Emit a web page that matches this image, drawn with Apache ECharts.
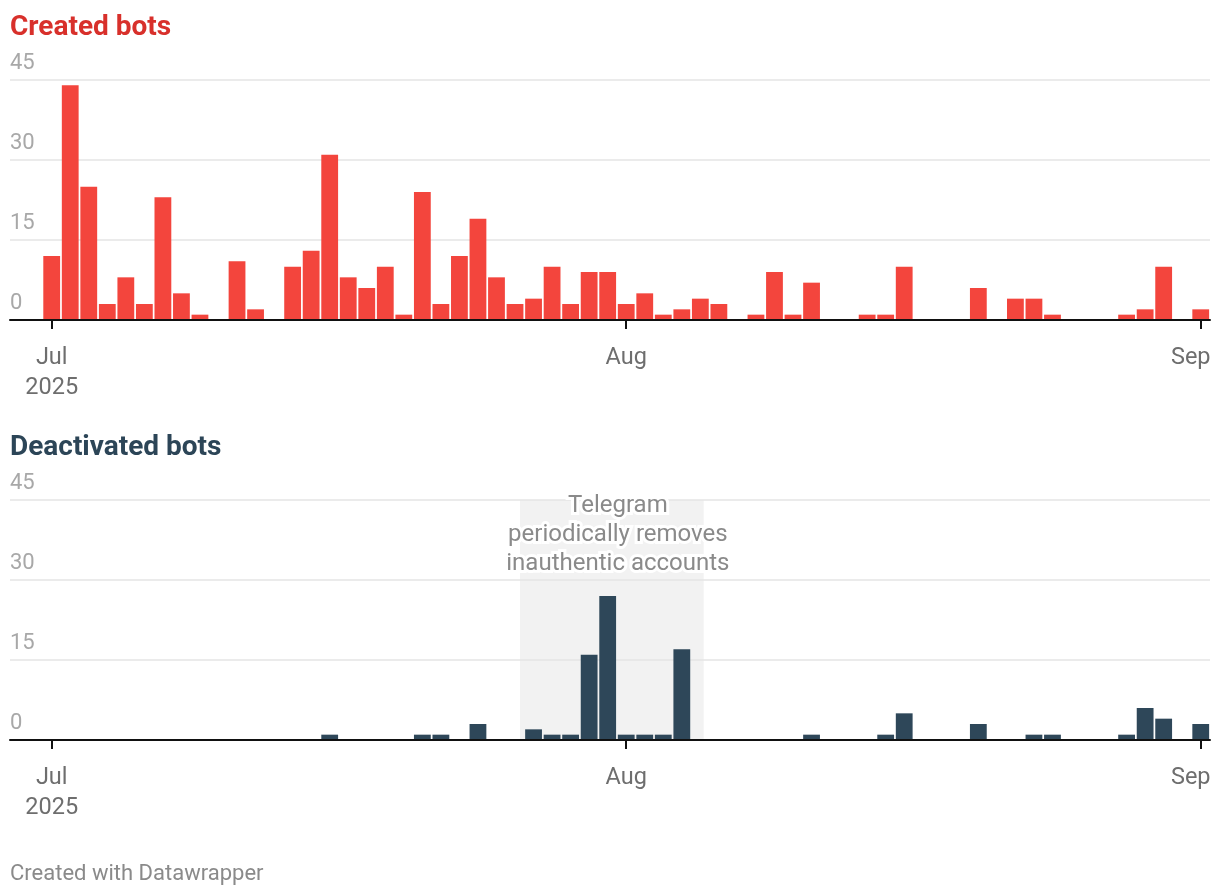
<!DOCTYPE html>
<html><head><meta charset="utf-8">
<script src="https://cdn.jsdelivr.net/npm/echarts@6/dist/echarts.min.js"></script>
<style>html,body{margin:0;padding:0;background:#fff}#c{width:1220px;height:896px}</style>
</head><body><div id="c"></div>
<script>
// Daily values, Jul 1 2025 (day 0) .. Sep 1 2025 (day 62)
const created = [
  12,44,25,3,8,3,23,5,1,0, 11,2,0,10,13,31,8,6,10,1, 24,3,12,19,8,3,4,10,3,9, 9,
  3,5,1,2,4,3,0,1,9,1, 7,0,0,1,1,10,0,0,0,6, 0,4,4,1,0,0,0,1,2,10, 0,
  2
];
const deactivated = [
  0,0,0,0,0,0,0,0,0,0, 0,0,0,0,0,1,0,0,0,0, 1,1,0,3,0,0,2,1,1,16, 27,
  1,1,1,17,0,0,0,0,0,0, 1,0,0,0,1,5,0,0,0,3, 0,0,1,1,0,0,0,1,6,4, 0,
  3
];
const tickDays = [0, 31, 62];
const tickLabels = ['Jul\n2025', 'Aug', '{sep|Sep}'];
const yTicks = [0, 15, 30, 45];
const shadeRange = [25.27, 35.18];           // shaded period (day index)
const noteAnchor = [30.55, 38.35];           // annotation anchor (day, value)
const noteText = 'Telegram\nperiodically removes\ninauthentic accounts';

const FONT = 'Roboto';
const chart = echarts.init(document.getElementById('c'), null, {renderer: 'canvas'});

function xAxis(gi) {
  return {
    type: 'value', gridIndex: gi, min: -2.25, max: 62.5, z: 3,
    splitLine: {show: false},
    axisLine: {show: true, onZero: true, lineStyle: {color: '#111', width: 2}},
    axisTick: {show: true, customValues: tickDays, length: 9, lineStyle: {color: '#111', width: 2}},
    axisLabel: {
      customValues: tickDays,
      formatter: v => tickLabels[tickDays.indexOf(Math.round(v))] || '',
      color: '#6e6e6e', fontSize: 23.5, lineHeight: 30, margin: 23, fontFamily: FONT,
      rich: {sep: {fontSize: 23.5, color: '#6e6e6e', fontFamily: FONT, padding: [0, 20, 0, 0]}}
    }
  };
}
function yAxis(gi, z) {
  return {
    type: 'value', gridIndex: gi, min: yTicks[0], max: yTicks[yTicks.length - 1], interval: 15, z: z,
    axisLine: {show: false}, axisTick: {show: false},
    splitLine: {lineStyle: {color: '#e4e4e4', width: 1.5}},
    axisLabel: {
      inside: true, margin: 0, align: 'left', verticalAlign: 'bottom', padding: [0, 0, 6, 0],
      color: '#a8a8a8', fontSize: 22, fontFamily: FONT
    }
  };
}

chart.setOption({
  animation: false,
  backgroundColor: '#ffffff',
  textStyle: {fontFamily: FONT},
  title: [
    {text: 'Created bots', left: 10, top: 14, padding: 0,
     textStyle: {color: '#d8302b', fontSize: 28, fontWeight: 'bold', fontFamily: FONT}},
    {text: 'Deactivated bots', left: 10, top: 434, padding: 0,
     textStyle: {color: '#2c4557', fontSize: 28, fontWeight: 'bold', fontFamily: FONT}},
    {text: 'Created with Datawrapper', left: 10, top: 863, padding: 0,
     textStyle: {color: '#8a8a8a', fontSize: 22, fontWeight: 'normal', fontFamily: FONT}}
  ],
  grid: [
    {left: 10, right: 10, top: 80, height: 240, outerBoundsMode: 'none', containLabel: false},
    {left: 10, right: 10, top: 500, height: 240, outerBoundsMode: 'none', containLabel: false}
  ],
  xAxis: [xAxis(0), xAxis(1)],
  yAxis: [yAxis(0, 0), yAxis(1, 1.5)],
  series: [
    {
      type: 'bar', xAxisIndex: 0, yAxisIndex: 0, barWidth: 16.8, z: 2,
      itemStyle: {color: '#f3453d'},
      data: created.map((v, i) => [i, v])
    },
    {
      type: 'bar', xAxisIndex: 1, yAxisIndex: 1, barWidth: 16.8, z: 2,
      itemStyle: {color: '#2e4759'},
      data: deactivated.map((v, i) => [i, v]),
      markArea: {
        silent: true, z: 1,
        itemStyle: {color: '#f2f2f2'},
        label: {show: false},
        data: [[{xAxis: shadeRange[0], yAxis: 45}, {xAxis: shadeRange[1], yAxis: 0}]]
      },
      markPoint: {
        silent: true, z: 5, symbol: 'circle', symbolSize: 0,
        label: {
          show: true, position: 'inside', formatter: noteText,
          color: '#8a8a8a', fontSize: 24, lineHeight: 29, fontFamily: FONT, align: 'center',
          textBorderColor: '#ffffff', textBorderWidth: 6
        },
        data: [{coord: noteAnchor}]
      }
    }
  ]
});
</script>
</body></html>
